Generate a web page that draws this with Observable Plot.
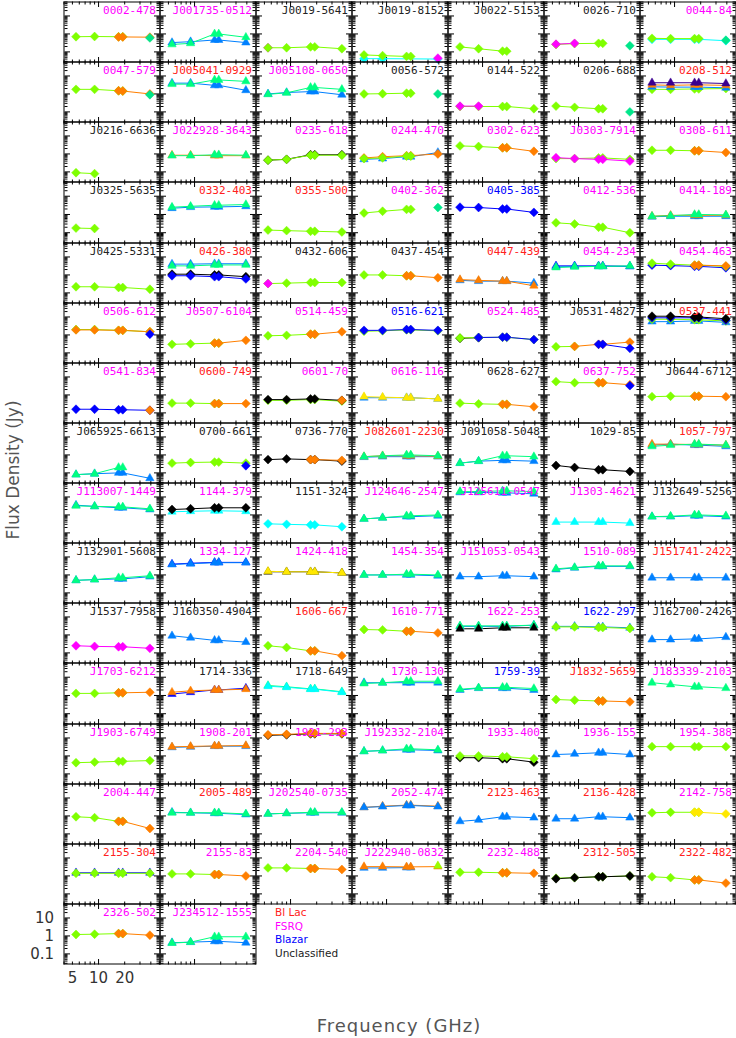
<!DOCTYPE html>
<html><head><meta charset="utf-8">
<script src="https://cdn.jsdelivr.net/npm/d3@7"></script>
<script src="https://cdn.jsdelivr.net/npm/@observablehq/plot@0.6"></script>
<style>
html,body{margin:0;padding:0;background:#fff}
body{width:736px;height:1038px;position:relative;overflow:hidden;font-family:"DejaVu Sans",sans-serif}
#ytitle{position:absolute;left:13px;top:470px;transform:translate(-50%,-50%) rotate(-90deg);font-size:17px;color:#555;white-space:nowrap}
#xtitle{position:absolute;left:399px;top:1025px;transform:translate(-50%,-50%);font-size:18px;letter-spacing:1px;color:#555;white-space:nowrap}
#legend{position:absolute;left:275px;top:906px;font-size:10.5px;line-height:13.7px}
</style></head><body>
<script>
// ---------- data ----------
const freqs = [5.5, 9, 17, 19, 39];
const names = [
"0002-478","J001735-0512","J0019-5641","J0019-8152","J0022-5153","0026-710","0044-84",
"0047-579","J005041-0929","J005108-0650","0056-572","0144-522","0206-688","0208-512",
"J0216-6636","J022928-3643","0235-618","0244-470","0302-623","J0303-7914","0308-611",
"J0325-5635","0332-403","0355-500","0402-362","0405-385","0412-536","0414-189",
"J0425-5331","0426-380","0432-606","0437-454","0447-439","0454-234","0454-463",
"0506-612","J0507-6104","0514-459","0516-621","0524-485","J0531-4827","0537-441",
"0541-834","0600-749","0601-70","0616-116","0628-627","0637-752","J0644-6712",
"J065925-6613","0700-661","0736-770","J082601-2230","J091058-5048","1029-85","1057-797",
"J113007-1449","1144-379","1151-324","J124646-2547","J125611-0547","J1303-4621","J132649-5256",
"J132901-5608","1334-127","1424-418","1454-354","J151053-0543","1510-089","J151741-2422",
"J1537-7958","J160350-4904","1606-667","1610-771","1622-253","1622-297","J162700-2426",
"J1703-6212","1714-336","1718-649","1730-130","1759-39","J1832-5659","J183339-2103",
"J1903-6749","1908-201","1921-293","J192332-2104","1933-400","1936-155","1954-388",
"2004-447","2005-489","J202540-0735","2052-474","2123-463","2136-428","2142-758",
"2155-304","2155-83","2204-540","J222940-0832","2232-488","2312-505","2322-482",
"2326-502","J234512-1555"];
// B = BL Lac, F = FSRQ, Z = Blazar, U = Unclassified
const classes = [
"F","F","U","U","U","U","F",
"F","B","F","U","U","U","B",
"U","F","F","F","F","F","F",
"U","B","B","F","Z","F","F",
"U","B","U","U","B","F","F",
"F","F","F","Z","F","U","B",
"F","B","F","F","U","F","U",
"U","U","U","B","U","U","B",
"F","F","U","F","F","F","U",
"U","F","F","F","F","F","B",
"U","U","B","F","F","Z","U",
"F","U","U","F","Z","B","F",
"F","F","F","F","F","F","F",
"F","B","F","F","B","B","F",
"B","F","F","F","F","B","B",
"F","F"];
// flux densities (Jy) at freqs; code = colour letter + marker (D diamond, T triangle)
const series = [
[["gD",[0.7,0.72,0.7,0.7,null]],["oD",[null,null,0.68,0.68,0.66]],["tD",[null,null,null,null,0.6]]],
[["bT",[0.33,0.37,0.46,0.46,0.33]],["sT",[0.26,0.3,1.0,1.0,0.65]]],
[["mD",[0.17,null,null,null,null]],["gD",[0.17,0.17,0.19,0.19,0.15]]],
[["cD",[0.042,0.042,null,null,0.04]],["gD",[0.068,0.062,0.056,0.056,null]],["mD",[null,null,null,null,0.045]]],
[["gD",[0.19,0.15,0.11,0.11,null]]],
[["gD",[0.26,0.29,0.3,0.3,null]],["tD",[null,null,null,null,0.22]],["mD",[0.27,0.3,null,null,null]]],
[["cD",[0.5,0.5,0.5,0.5,0.42]],["gD",[0.57,0.55,0.55,0.55,null]],["tD",[null,null,null,null,0.45]]],

[["gD",[1.8,1.8,1.5,1.45,null]],["oD",[null,null,1.5,1.45,1.0]],["tD",[null,null,null,null,0.9]]],
[["bT",[4,4,3,3,1.6]],["sT",[3.5,3.5,6,6,5]]],
[["bT",[1.0,1.2,1.35,1.35,0.9]],["sT",[0.95,1.15,2.3,2.3,1.8]]],
[["gD",[1.0,1.03,1.1,1.1,null]],["tD",[null,null,null,null,1.0]]],
[["gD",[0.2,0.2,0.2,0.2,0.15]],["mD",[0.21,0.21,null,null,null]]],
[["gD",[0.21,0.18,0.15,0.15,null]],["tD",[null,null,null,null,0.1]]],
[["gD",[1.8,1.8,1.9,1.9,2.0]],["bT",[2.5,2.4,2.4,2.4,2.2]],["oT",[3.2,3.0,3.2,3.2,3.0]],["pT",[4.2,4.2,4.2,4.2,3.8]]],

[["gD",[0.09,0.08,null,null,null]]],
[["oT",[0.85,0.85,0.8,0.8,0.8]],["sT",[0.8,0.8,0.9,0.9,0.85]]],
[["kD",[0.45,0.5,0.9,0.9,0.9]],["gD",[0.45,0.5,0.85,0.85,0.85]]],
[["bT",[0.5,0.55,0.7,0.7,1.2]],["oD",[0.6,0.7,0.8,0.8,1.0]],["gD",[0.55,0.6,0.75,0.75,null]]],
[["gD",[2.8,2.6,2.2,2.2,null]],["oD",[null,null,2.2,2.2,1.4]]],
[["gD",[0.55,0.55,0.6,0.6,0.5]],["mD",[0.62,0.55,0.5,0.5,0.4]]],
[["gD",[1.6,1.6,1.5,1.5,null]],["oD",[null,null,1.5,1.5,1.2]]],

[["gD",[0.18,0.17,null,null,null]]],
[["bT",[2.2,2.5,2.6,2.6,2.8]],["sT",[2.5,2.8,3.2,3.2,3.5]]],
[["gD",[0.14,0.13,0.12,0.12,0.11]]],
[["gD",[1.2,1.5,1.9,1.9,null]],["tD",[null,null,null,null,2.4]]],
[["nD",[2.5,2.4,2.0,2.0,1.3]]],
[["gD",[0.35,0.3,0.2,0.2,0.1]]],
[["bT",[0.75,0.8,0.8,0.8,0.8]],["oT",[0.8,0.9,0.9,0.9,0.9]],["sT",[0.8,0.85,1.0,1.0,0.95]]],

[["gD",[0.22,0.22,0.2,0.2,0.16]]],
[["bT",[4,4,4.2,4.2,4.2]],["sT",[3.2,3.2,3.6,3.6,3.6]],["kD",[1.1,1.1,1.0,1.0,0.8]],["nD",[0.9,0.9,0.8,0.8,0.6]]],
[["gD",[0.33,0.35,0.38,0.38,0.38]],["mD",[0.33,null,null,null,null]]],
[["gD",[1.0,1.0,0.9,0.9,null]],["oD",[null,null,0.9,0.9,0.7]]],
[["bT",[0.5,0.45,0.45,0.45,0.35]],["oT",[0.55,0.5,0.45,0.45,0.25]]],
[["nT",[3.2,3.2,3.2,3.2,3.0]],["bT",[2.8,3,3,3,3]],["sT",[2.6,2.8,3,3,3.2]]],
[["nD",[3.5,3.3,3,3,2.5]],["gD",[4.5,4,3.5,3.5,3]],["oD",[null,null,3.5,3.5,3.2]]],

[["gD",[2,2,1.8,1.8,1.5]],["oD",[1.9,1.9,1.8,1.8,1.5]],["nD",[null,null,null,null,1.1]]],
[["gD",[0.3,0.32,0.35,0.35,null]],["oD",[null,null,0.35,0.35,0.5]]],
[["gD",[0.9,0.95,1.1,1.1,null]],["oD",[null,null,1.1,1.1,1.5]]],
[["gD",[1.6,1.7,1.9,1.9,1.7]],["nD",[1.8,1.8,2.0,2.0,1.8]]],
[["kD",[0.65,0.7,null,null,null]],["gD",[0.68,0.72,0.74,0.74,0.55]],["nD",[null,0.72,0.75,0.75,0.55]]],
[["gD",[0.22,0.23,null,null,null]],["oD",[null,0.23,0.3,0.3,0.4]],["nD",[null,null,0.3,0.3,0.18]]],
[["bT",[5.5,5.5,6,6,5]],["gD",[7.5,7.5,7,7,6]],["nD",[9,9,9,9,6.5]],["kD",[11,11,10,10,8]]],

[["nD",[0.16,0.16,0.15,0.15,0.14]],["oD",[null,null,null,null,0.14]]],
[["gD",[0.35,0.35,0.33,0.33,null]],["oD",[null,null,0.33,0.33,0.33]]],
[["gD",[0.5,0.5,0.55,0.55,0.45]],["kD",[0.55,0.55,0.6,0.6,0.5]],["oD",[null,null,null,null,0.5]]],
[["bT",[0.7,0.7,0.7,0.7,0.6]],["yT",[0.8,0.75,0.7,0.7,0.6]]],
[["gD",[0.35,0.32,0.3,0.3,null]],["oD",[null,null,0.3,0.3,0.22]]],
[["gD",[5.5,4.8,4.8,4.8,null]],["oD",[null,null,4.8,4.8,3.7]],["nD",[null,null,null,null,3.3]]],
[["gD",[0.8,0.85,0.85,0.85,null]],["oD",[null,null,0.85,0.85,0.8]]],

[["bT",[0.08,0.09,0.1,0.1,0.05]],["sT",[0.08,0.09,0.2,0.2,null]]],
[["gD",[0.35,0.38,0.4,0.4,0.35]],["nD",[null,null,null,null,0.25]]],
[["kD",[0.55,0.6,0.55,0.55,0.45]],["oD",[null,null,0.55,0.55,0.5]]],
[["bT",[0.75,0.8,0.8,0.8,0.8]],["oT",[0.8,0.9,0.9,0.9,0.85]],["sT",[0.8,0.9,1.0,1.0,0.9]]],
[["bT",[0.35,0.45,0.5,0.5,0.45]],["sT",[0.35,0.45,0.9,0.9,0.8]]],
[["kD",[0.26,0.2,0.15,0.15,0.12]]],
[["bT",[3.5,4,3.5,3.5,3]],["oT",[4,4,3.8,3.8,3.5]],["sT",[3,3.5,4,4,3.5]]],

[["bT",[3.5,3,2.5,2.5,2]],["sT",[3.2,3,2.8,2.8,2.2]]],
[["cT",[1.5,1.6,1.7,1.7,1.6]],["kD",[2,2.2,2.5,2.5,2.5]]],
[["cD",[0.32,0.3,0.28,0.28,0.22]]],
[["bT",[0.6,0.7,0.8,0.8,0.9]],["sT",[0.6,0.7,0.9,0.9,1.0]]],
[["bT",[18,18,17,17,15]],["sT",[20,20,22,22,20]]],
[["cT",[0.4,0.4,0.4,0.4,0.35]]],
[["bT",[0.8,0.8,0.9,0.9,0.8]],["sT",[0.8,0.85,1.0,1.0,0.9]]],

[["bT",[0.5,0.55,0.6,0.6,0.8]],["sT",[0.5,0.55,0.7,0.7,0.9]]],
[["nT",[4,4.5,5,5,5]],["bT",[3.8,4.2,4.8,4.8,4.8]]],
[["kT",[1.5,1.5,1.5,1.5,1.3]],["yT",[1.6,1.5,1.5,1.5,1.3]]],
[["bT",[1,1,1,1,0.9]],["sT",[1,1,1.1,1.1,1.0]]],
[["bT",[0.8,0.8,0.9,0.9,0.8]]],
[["bT",[2,2.5,3,3,3]],["sT",[2.2,2.6,3.2,3.2,3.2]]],
[["bT",[0.7,0.7,0.7,0.7,0.7]]],

[["mD",[0.25,0.23,0.22,0.22,0.18]]],
[["bT",[0.9,0.7,0.5,0.5,0.4]]],
[["gD",[0.25,0.2,0.13,0.13,null]],["oD",[null,null,0.13,0.13,0.07]]],
[["gD",[2,1.9,1.6,1.6,null]],["oD",[null,null,1.6,1.6,1.3]]],
[["bT",[3,3,3,3,3.5]],["sT",[3.2,3.2,3.2,3.2,3.5]],["kT",[2.2,2.2,2.5,2.5,2.5]]],
[["bT",[3,3,2.8,2.8,2.5]],["gD",[2.8,2.8,2.6,2.6,2.3]]],
[["bT",[0.55,0.55,0.6,0.6,0.75]]],

[["gD",[1.3,1.3,1.4,1.4,null]],["oD",[null,null,1.4,1.4,1.5]]],
[["nT",[1.2,1.5,2,2,2.5]],["oT",[1.5,1.8,2,2,2.2]]],
[["sT",[3.5,3,2.3,2.3,1.6]],["cT",[3.2,2.8,2.2,2.2,1.5]]],
[["bT",[5,5,5,5,5]],["sT",[4.5,5,6,6,6]]],
[["bT",[2,2.5,2.5,2.5,2]],["sT",[2.2,2.6,2.8,2.8,2.4]]],
[["gD",[0.6,0.55,0.5,0.5,null]],["oD",[null,null,0.5,0.5,0.45]]],
[["sT",[5,4,3,3,2.5]]],

[["gD",[0.42,0.45,0.5,0.5,0.55]]],
[["bT",[3,3.2,3.5,3.5,3.5]],["oT",[3.2,3.4,3.6,3.6,3.8]]],
[["kD",[14,15,17,17,17]],["oD",[15,16,18,18,18]]],
[["bT",[1.8,2,2.2,2.2,2]],["sT",[1.8,2,2.5,2.5,2.2]]],
[["kD",[0.8,0.8,0.7,0.7,0.45]],["gD",[1,1,0.9,0.9,0.7]]],
[["bT",[1.2,1.3,1.5,1.5,1.2]]],
[["gD",[3.3,3.3,3.3,3.3,3.3]]],

[["gD",[0.9,0.8,0.5,0.5,null]],["oD",[null,null,0.5,0.5,0.2]]],
[["bT",[1.6,1.5,1.4,1.4,1.2]],["sT",[1.5,1.5,1.5,1.5,1.3]]],
[["bT",[1.3,1.4,1.5,1.5,1.5]],["sT",[1.3,1.4,1.6,1.6,1.6]]],
[["oT",[3,3.5,4,4,3.5]],["bT",[3,3.3,3.8,3.8,3.3]]],
[["bT",[0.5,0.6,0.9,0.9,0.8]]],
[["bT",[0.7,0.7,0.9,0.9,0.8]]],
[["gD",[1.5,1.6,1.6,1.6,null]],["yD",[null,null,1.6,1.6,1.3]]],

[["nT",[1.5,1.5,1.5,1.5,1.5]],["gD",[1.4,1.4,1.4,1.4,1.4]]],
[["gD",[1.3,1.3,1.2,1.2,null]],["oD",[null,null,1.2,1.2,1.0]]],
[["gD",[2.8,2.8,2.6,2.6,null]],["oD",[null,null,2.6,2.6,2.3]]],
[["bT",[2.8,2.8,2.9,2.9,null]],["oT",[3.3,3.3,3.2,3.2,3.3]],["lT",[null,null,null,null,3.7]]],
[["gD",[1.6,1.6,1.5,1.5,null]],["oD",[null,null,1.5,1.5,1.4]]],
[["gD",[0.75,0.8,0.9,0.9,1.0]],["kD",[0.7,0.8,0.9,0.9,1.0]]],
[["gD",[0.9,0.8,0.6,0.6,null]],["oD",[null,null,0.6,0.6,0.4]]],

[["gD",[1.2,1.25,1.35,1.35,null]],["oD",[null,null,1.35,1.35,1.1]]],
[["bT",[0.42,0.45,0.5,0.5,0.42]],["sT",[0.4,0.45,0.9,0.9,0.9]]]
];
const classColors = {B:"#ff2020", F:"#ff00ff", Z:"#0000ff", U:"#222222"};
const legendItems = [["Bl Lac","B"],["FSRQ","F"],["Blazar","Z"],["Unclassified","U"]];
const seriesColors = {g:"#7fff00", o:"#ff7f00", t:"#00e68a", b:"#0080ff", s:"#00ff80", l:"#99ff00",
  n:"#0000ff", k:"#000000", m:"#ff00ff", c:"#00ffff", y:"#ffe800", r:"#ff0000", p:"#3a0090"};
const yLabelTicks = [0.1, 1, 10];
const xLabelTicks = [5, 10, 20];
const yMajor = [0.1, 1, 10];
const xMajor = [10];
const xDomain = [4, 51];
const yDomain = [0.0274, 60];

// ---------- layout ----------
const NCOL = 7, COLW = 96, ROWH = 60.13, X0 = 63, Y0 = 1;
const yMinor = d3.scaleLog().domain(yDomain).ticks().filter(v => !yMajor.includes(v));
const xMinor = d3.scaleLog().domain(xDomain).ticks().filter(v => !xMajor.includes(v));
const rowTop = r => Math.round(Y0 + ROWH * r);

// inward ticks: tick drawn on the opposite side's anchor, placed on this side's frame edge
function inwardY(ticks, side, size) {
  return Plot.axisY(ticks, {anchor: side === "left" ? "right" : "left", frameAnchor: side,
    tickSize: size, fill: "none", label: null, stroke: "#000"});
}
function inwardX(ticks, side, size) {
  return Plot.axisX(ticks, {anchor: side === "bottom" ? "top" : "bottom", frameAnchor: side,
    tickSize: size, fill: "none", label: null, stroke: "#000"});
}

names.forEach((name, i) => {
  const c = i % NCOL, r = Math.floor(i / NCOL);
  const corner = i === 105;
  const innerH = rowTop(r + 1) - rowTop(r);
  const mL = corner ? 60.5 : 0.5, mB = corner ? 40.5 : 0.5;
  const data = [];
  series[i].forEach(([code, vals], si) => vals.forEach((v, k) => {
    if (v != null) data.push({f: freqs[k], v, s: si, color: seriesColors[code[0]], sym: code[1] === "T" ? "triangle2" : "diamond2"});
  }));
  const marks = [
    inwardY(yMinor, "left", 3), inwardY(yMajor, "left", 5.5),
    inwardY(yMinor, "right", 3), inwardY(yMajor, "right", 5.5),
    inwardX(xMinor, "bottom", 3), inwardX(xMajor, "bottom", 5.5),
    inwardX(xMinor, "top", 3), inwardX(xMajor, "top", 5.5),
    Plot.line(data, {x: "f", y: "v", z: "s", stroke: "color", strokeWidth: 1}),
    Plot.dot(data, {x: "f", y: "v", fill: "color", stroke: "color", symbol: "sym", r: 4, strokeWidth: 0.5}),
    Plot.text([name], {text: d => d, frameAnchor: "top-right", textAnchor: "end", lineAnchor: "top",
      dx: -4, dy: 4, fill: classColors[classes[i]], fontSize: 11, fontFamily: "DejaVu Sans Mono"}),
    Plot.frame({stroke: "#000"})
  ];
  if (corner) {
    marks.push(Plot.axisY(yLabelTicks, {anchor: "left", tickSize: 0, tickPadding: 10, label: null,
      fontSize: 15, fill: "#333", tickFormat: d => String(d)}));
    marks.push(Plot.text(xLabelTicks, {x: d => d, text: d => String(d), frameAnchor: "bottom",
      lineAnchor: "top", dy: 8, fontSize: 15, fill: "#333"}));
  }
  const svg = Plot.plot({
    width: mL + COLW + 0.5, height: 0.5 + innerH + mB,
    marginLeft: mL, marginRight: 0.5, marginTop: 0.5, marginBottom: mB,
    x: {type: "log", domain: xDomain},
    y: {type: "log", domain: yDomain},
    style: {background: "transparent", overflow: "visible", fontFamily: "DejaVu Sans"},
    marks
  });
  svg.style.position = "absolute";
  svg.style.left = (X0 + COLW * c - (mL - 0.5)) + "px";
  svg.style.top = rowTop(r) + "px";
  document.body.appendChild(svg);
});

// titles and legend
const yt = document.createElement("div"); yt.id = "ytitle"; yt.textContent = "Flux Density (Jy)"; document.body.appendChild(yt);
const xt = document.createElement("div"); xt.id = "xtitle"; xt.textContent = "Frequency (GHz)"; document.body.appendChild(xt);
const lg = document.createElement("div"); lg.id = "legend";
legendItems.forEach(([t, k]) => { const d = document.createElement("div"); d.textContent = t; d.style.color = classColors[k]; lg.appendChild(d); });
document.body.appendChild(lg);
</script>
</body></html>
